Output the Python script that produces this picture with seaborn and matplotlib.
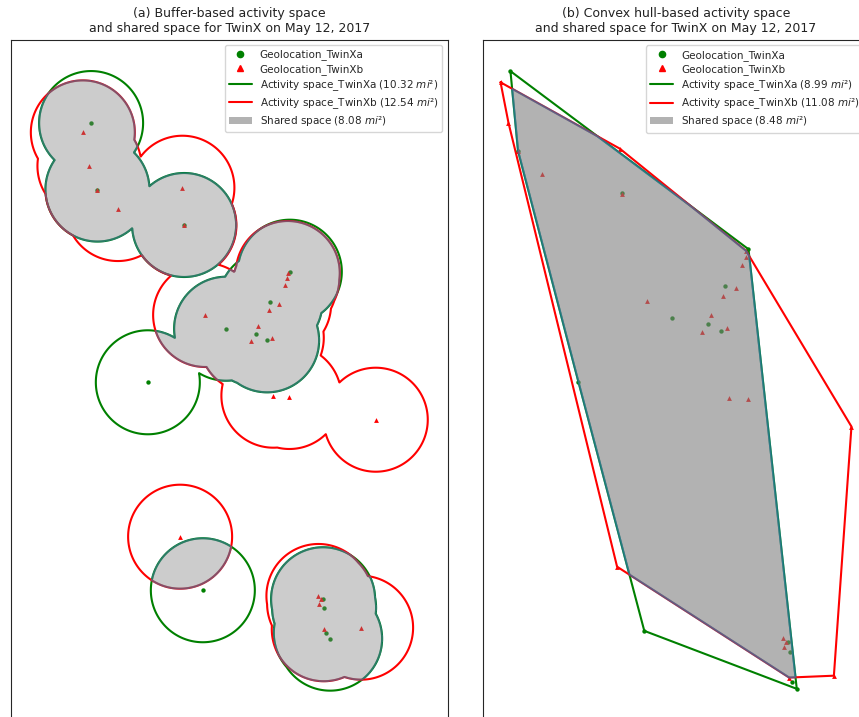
import numpy as np
import pandas as pd
import matplotlib
matplotlib.use("Agg")
import matplotlib.pyplot as plt
from matplotlib.lines import Line2D
from matplotlib.patches import Patch, Polygon
import seaborn as sns

# GPS fixes in local projected coordinates (km east / km north of origin)
twin_a_x = [1.538, 1.660, 3.327, 5.360, 4.987, 4.135, 4.706, 4.923, 2.629,
            3.687, 6.000, 6.019, 6.052, 6.135]
twin_a_y = [11.519, 10.240, 9.558, 8.660, 8.071, 7.563, 7.456, 7.340, 6.533,
            2.533, 2.360, 2.198, 1.712, 1.602]

twin_b_x = [1.379, 1.506, 1.660, 2.052, 3.294, 3.333, 5.321, 5.313, 5.263,
            5.154, 4.956, 3.731, 4.756, 4.621, 5.013, 5.044, 5.352, 7.013,
            3.250, 5.910, 5.967, 5.923, 6.013, 6.731]
twin_b_y = [11.340, 10.692, 10.240, 9.865, 10.275, 9.552, 8.635, 8.533, 8.410,
            8.033, 7.917, 7.827, 7.610, 7.333, 7.390, 6.275, 6.250, 5.813,
            3.563, 2.423, 2.360, 2.275, 1.783, 1.813]

buffer_km = 1.0

areas_buffer = {"a": "10.32", "b": "12.54", "shared": "8.08"}
areas_hull = {"a": "8.99", "b": "11.08", "shared": "8.48"}

titles = ["(a) Buffer-based activity space\nand shared space for TwinX on May 12, 2017",
          "(b) Convex hull-based activity space\nand shared space for TwinX on May 12, 2017"]

COL_A = "green"
COL_B = "red"
EDGE_SHARED = "#1f77b4"

pts = pd.concat([
    pd.DataFrame({"x": twin_a_x, "y": twin_a_y, "twin": "TwinXa"}),
    pd.DataFrame({"x": twin_b_x, "y": twin_b_y, "twin": "TwinXb"}),
], ignore_index=True)

sns.set_style("white")
plt.rcParams["font.family"] = ["DejaVu Sans"]


def convex_hull(p):
    p = sorted(map(tuple, p))

    def cross(o, a, b):
        return (a[0] - o[0]) * (b[1] - o[1]) - (a[1] - o[1]) * (b[0] - o[0])

    lower, upper = [], []
    for q in p:
        while len(lower) >= 2 and cross(lower[-2], lower[-1], q) <= 0:
            lower.pop()
        lower.append(q)
    for q in reversed(p):
        while len(upper) >= 2 and cross(upper[-2], upper[-1], q) <= 0:
            upper.pop()
        upper.append(q)
    return np.array(lower[:-1] + upper[:-1])


def clip_convex(subject, clipper):
    """Sutherland-Hodgman clipping of a polygon by a CCW convex polygon."""
    def inside(q, a, b):
        return (b[0] - a[0]) * (q[1] - a[1]) - (b[1] - a[1]) * (q[0] - a[0]) >= 0

    def intersect(p1, p2, a, b):
        x1, y1 = p1; x2, y2 = p2; x3, y3 = a; x4, y4 = b
        d = (x1 - x2) * (y3 - y4) - (y1 - y2) * (x3 - x4)
        t = ((x1 - x3) * (y3 - y4) - (y1 - y3) * (x3 - x4)) / d
        return (x1 + t * (x2 - x1), y1 + t * (y2 - y1))

    out = [tuple(q) for q in subject]
    n = len(clipper)
    for i in range(n):
        a, b = clipper[i], clipper[(i + 1) % n]
        inp, out = out, []
        if not inp:
            break
        s = inp[-1]
        for e in inp:
            if inside(e, a, b):
                if not inside(s, a, b):
                    out.append(intersect(s, e, a, b))
                out.append(e)
            elif inside(s, a, b):
                out.append(intersect(s, e, a, b))
            s = e
    return np.array(out)


def padded_limits(lo, hi, frac=0.05):
    m = (hi - lo) * frac
    return lo - m, hi + m


def draw_points(ax):
    sns.scatterplot(data=pts[pts.twin == "TwinXa"], x="x", y="y", ax=ax,
                    color=COL_A, marker="o", s=10, linewidth=0, zorder=3,
                    legend=False)
    sns.scatterplot(data=pts[pts.twin == "TwinXb"], x="x", y="y", ax=ax,
                    color=COL_B, marker="^", s=12, linewidth=0, zorder=3,
                    legend=False)


def add_legend(ax, areas):
    handles = [
        Line2D([], [], ls="none", marker="o", color=COL_A, markersize=4.5),
        Line2D([], [], ls="none", marker="^", color=COL_B, markersize=4.5),
        Line2D([], [], color=COL_A, lw=1.5),
        Line2D([], [], color=COL_B, lw=1.5),
        Patch(facecolor="gray", alpha=0.6, edgecolor="none"),
    ]
    labels = [
        "Geolocation_TwinXa",
        "Geolocation_TwinXb",
        f"Activity space_TwinXa ({areas['a']} $mi$\u00b2)",
        f"Activity space_TwinXb ({areas['b']} $mi$\u00b2)",
        f"Shared space ({areas['shared']} $mi$\u00b2)",
    ]
    ax.legend(handles, labels, loc="upper right", fontsize=7.5,
              handlelength=2.2, handletextpad=0.75, borderaxespad=0.5,
              labelspacing=0.32, framealpha=0.8)


def finish(ax, title):
    ax.set_aspect("equal")
    ax.set_xticks([])
    ax.set_yticks([])
    ax.set_xlabel("")
    ax.set_ylabel("")
    ax.set_title(title, fontsize=9, pad=6, color="#222222")


W, H = 859, 717
fig = plt.figure(figsize=(W / 100, H / 100), dpi=100)
ax1 = fig.add_axes([11 / W, (H - 721.7) / H, 436.6 / W, 681.7 / H])
ax2 = fig.add_axes([483 / W, (H - 720) / H, 386 / W, 680 / H])

# ---- (a) buffer-based activity space ----
all_x = np.array(twin_a_x + twin_b_x)
all_y = np.array(twin_a_y + twin_b_y)
xa = padded_limits(all_x.min() - buffer_km, all_x.max() + buffer_km)
ya = padded_limits(all_y.min() - buffer_km, all_y.max() + buffer_km)

gx = np.arange(xa[0], xa[1], 0.006)
gy = np.arange(ya[0], ya[1], 0.006)
X, Y = np.meshgrid(gx, gy)


def nearest_dist(xs, ys):
    d = np.full(X.shape, np.inf)
    for px, py in zip(xs, ys):
        d = np.minimum(d, np.hypot(X - px, Y - py))
    return d


dA = nearest_dist(twin_a_x, twin_a_y)
dB = nearest_dist(twin_b_x, twin_b_y)
dShared = np.maximum(dA, dB)

ax1.contour(X, Y, dA, levels=[buffer_km], colors=[COL_A], linewidths=1.5, zorder=2)
ax1.contour(X, Y, dB, levels=[buffer_km], colors=[COL_B], linewidths=1.5, zorder=2)
draw_points(ax1)
ax1.contourf(X, Y, dShared, levels=[-1, buffer_km], colors=["gray"], alpha=0.4, zorder=4)
ax1.contour(X, Y, dShared, levels=[buffer_km], colors=[EDGE_SHARED], alpha=0.4,
            linewidths=1.5, zorder=4)
ax1.set_xlim(*xa)
ax1.set_ylim(*ya)
add_legend(ax1, areas_buffer)
finish(ax1, titles[0])

# ---- (b) convex hull-based activity space ----
hull_a = convex_hull(np.column_stack([twin_a_x, twin_a_y]))
hull_b = convex_hull(np.column_stack([twin_b_x, twin_b_y]))
shared = clip_convex(hull_a, hull_b)

for hull, col in [(hull_a, COL_A), (hull_b, COL_B)]:
    closed = np.vstack([hull, hull[:1]])
    ax2.plot(closed[:, 0], closed[:, 1], color=col, lw=1.5, zorder=2)
draw_points(ax2)
ax2.add_patch(Polygon(shared, closed=True, facecolor="gray", edgecolor=EDGE_SHARED,
                      alpha=0.6, lw=1.5, zorder=4))
xb = padded_limits(all_x.min(), all_x.max())
yb = padded_limits(all_y.min(), all_y.max())
ax2.set_xlim(*xb)
ax2.set_ylim(*yb)
add_legend(ax2, areas_hull)
finish(ax2, titles[1])

fig.savefig("out.png", dpi=100)
